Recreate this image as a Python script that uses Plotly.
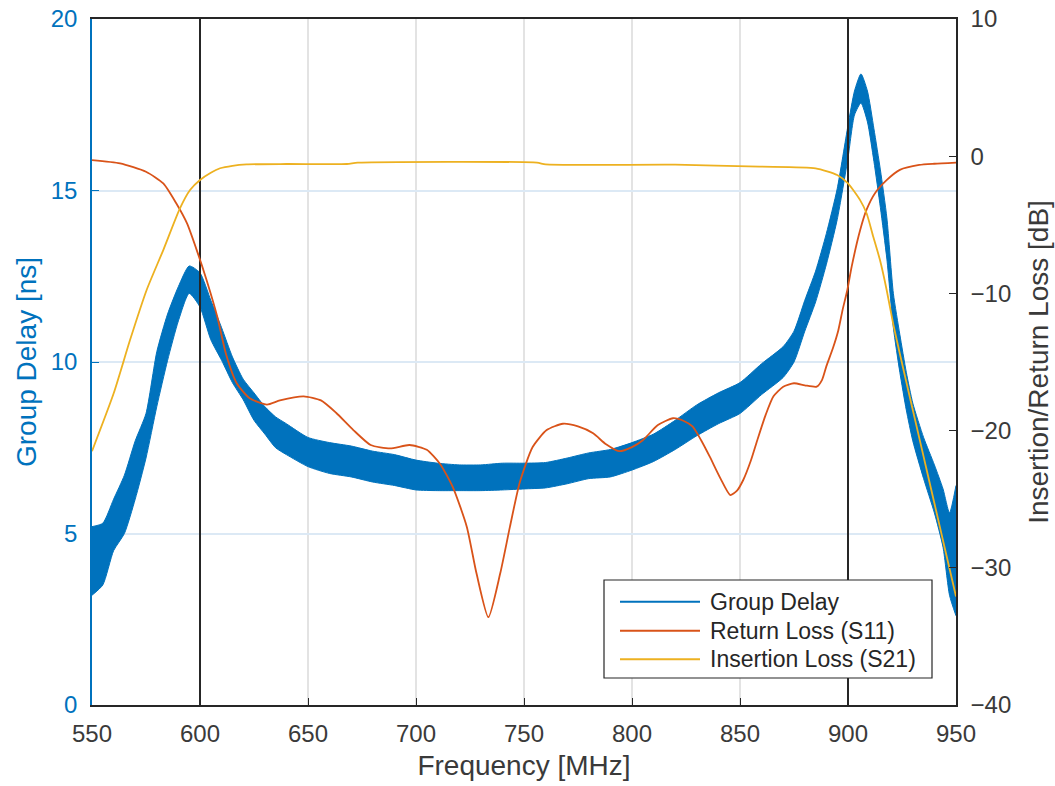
import plotly.graph_objects as go

# ---------------- data ----------------
# Group delay: noisy trace, represented by the lower / upper edge of its band (ns)
gd_freq = [550, 555, 560, 565, 570, 575, 580, 585, 590, 595, 600, 605, 610, 615, 620,
           625, 630, 635, 640, 650, 660, 670, 680, 690, 700, 710, 720, 730, 740, 750,
           760, 770, 780, 790, 800, 810, 820, 830, 840, 850, 860, 870, 875, 880, 885,
           890, 895, 900, 903, 906, 909, 912, 915, 918, 921, 924, 927, 930, 935, 940,
           944, 947, 950]
gd_low = [3.2, 3.5, 4.5, 5.0, 6.0, 7.2, 8.7, 10.05, 11.2, 12.0, 11.6, 10.65, 10.05, 9.4, 8.9,
          8.3, 7.9, 7.5, 7.3, 6.95, 6.75, 6.65, 6.5, 6.4, 6.27, 6.25, 6.25, 6.25, 6.27, 6.3,
          6.33, 6.45, 6.6, 6.65, 6.85, 7.1, 7.45, 7.85, 8.2, 8.5, 9.05, 9.55, 10.0, 10.9, 11.75,
          12.85, 14.15, 15.95, 17.2, 17.55, 17.0, 15.85, 14.5, 13.0, 11.0, 9.7, 8.6, 7.7, 6.6, 5.6,
          4.6, 3.2, 2.6]
gd_high = [5.2, 5.3, 6.0, 6.7, 7.7, 8.5, 10.3, 11.4, 12.2, 12.8, 12.6, 11.8, 11.0, 10.15, 9.5,
           9.1, 8.7, 8.4, 8.2, 7.8, 7.65, 7.55, 7.4, 7.3, 7.14, 7.05, 7.0, 7.0, 7.05, 7.05,
           7.07, 7.2, 7.35, 7.45, 7.65, 7.9, 8.3, 8.75, 9.1, 9.4, 9.95, 10.45, 10.9, 11.8, 12.65,
           13.75, 15.05, 16.9, 17.9, 18.4, 17.9, 16.8, 15.6, 14.2, 12.0, 10.8, 9.7, 8.8, 7.8, 7.0,
           6.3, 5.6, 6.4]

# Return loss S11 (dB)
s11_freq = [550, 563, 575, 583, 589, 594, 599, 603, 608, 612, 617, 623, 631, 637, 648,
            656, 663, 671, 679, 688, 697, 705, 711, 717, 723.5, 728, 733.5, 739, 743.5, 748,
            754, 760.5, 768, 775, 782, 788, 794, 800, 805, 812, 819, 824, 828, 832, 836,
            841, 845.5, 848.5, 851.5, 855, 858, 862, 865.5, 870, 875, 880, 885.5, 888, 890,
            893, 895.5, 897.5, 899.7, 901.7, 905.6, 908.6, 912.5, 918, 924, 933, 940, 950]
s11_db = [-0.28, -0.52, -1.13, -1.98, -3.43, -4.9, -7.08, -9.0, -11.7, -14.4, -16.55, -17.65, -18.1, -17.8, -17.5,
          -17.8, -18.7, -19.96, -21.05, -21.3, -21.05, -21.4, -22.4, -24.1, -27.0, -30.4, -33.6, -30.4, -27.0, -23.8,
          -21.2, -19.96, -19.5, -19.7, -20.2, -21.0, -21.5, -21.2, -20.7, -19.6, -19.1, -19.3, -19.7, -20.7, -21.9,
          -23.5, -24.7, -24.4, -23.6, -22.2, -20.7, -18.8, -17.5, -16.8, -16.55, -16.7, -16.8, -16.3, -15.3,
          -14.0, -12.7, -11.2, -9.75, -8.05, -5.4, -3.9, -2.7, -1.73, -1.0, -0.64, -0.55, -0.47]

# Insertion loss S21 (dB)
s21_freq = [550, 560, 567.6, 575.3, 583, 590.7, 595.4, 600, 605, 609.3, 615, 621.6, 640, 668,
            673, 756, 760, 820, 859, 885, 895, 900, 905.6, 908.6, 911.7, 914.8, 917.9, 920.9,
            924, 930, 935, 940, 945, 950]
s21_db = [-21.5, -17.3, -13.4, -9.75, -6.84, -3.8, -2.46, -1.73, -1.2, -0.88, -0.7, -0.6, -0.57, -0.57,
          -0.47, -0.47, -0.6, -0.62, -0.76, -0.88, -1.37, -1.98, -3.2, -4.16, -5.87, -7.57, -9.75, -12.2,
          -14.4, -18.5, -21.9, -25.3, -28.7, -32.1]

marker_freqs = [600, 900]
x_range = [550, 950]
x_ticks = [550, 600, 650, 700, 750, 800, 850, 900, 950]
y_left_range = [0, 20]
y_left_ticks = [0, 5, 10, 15, 20]
y_right_range = [-40, 10]
y_right_ticks = [-40, -30, -20, -10, 0, 10]
legend_labels = ["Group Delay", "Return Loss (S11)", "Insertion Loss (S21)"]

# ---------------- styling ----------------
BLUE = "#0072BD"
ORANGE = "#D95319"
YELLOW = "#EDB120"
DARK = "#262626"
TXT = "#3a3a3a"
FONT = "Liberation Sans, Arial, sans-serif"
W, H = 1055, 786
ML, MR, MT, MB = 92, 99, 19, 81

fig = go.Figure()

# group delay band
fig.add_trace(go.Scatter(x=gd_freq, y=gd_low, mode="lines",
                         line=dict(color=BLUE, width=1, shape="spline", smoothing=0.6),
                         showlegend=False, hoverinfo="skip"))
fig.add_trace(go.Scatter(x=gd_freq, y=gd_high, mode="lines",
                         line=dict(color=BLUE, width=1, shape="spline", smoothing=0.6),
                         fill="tonexty", fillcolor=BLUE, showlegend=False, hoverinfo="skip"))

# vertical marker lines (left axis, so they sit above the blue band and below the S-params)
for f in marker_freqs:
    fig.add_trace(go.Scatter(x=[f, f], y=y_left_range, mode="lines",
                             line=dict(color=DARK, width=2), showlegend=False, hoverinfo="skip"))

fig.add_trace(go.Scatter(x=s11_freq, y=s11_db, mode="lines", yaxis="y2",
                         line=dict(color=ORANGE, width=1.8, shape="spline", smoothing=0.6),
                         showlegend=False))
fig.add_trace(go.Scatter(x=s21_freq, y=s21_db, mode="lines", yaxis="y2",
                         line=dict(color=YELLOW, width=1.8, shape="spline", smoothing=0.6),
                         showlegend=False))

# ---------------- custom legend (MATLAB style) ----------------
pw, ph = W - ML - MR, H - MT - MB
px = lambda v: (v - ML) / pw
py = lambda v: (H - MB - v) / ph
fig.add_shape(type="rect", xref="paper", yref="paper", x0=px(604), x1=px(932), y0=py(678), y1=py(580),
              line=dict(color=DARK, width=1.2), fillcolor="white", layer="above")
for lab, col, rowy in zip(legend_labels, [BLUE, ORANGE, YELLOW], [601.7, 630.7, 659.3]):
    fig.add_shape(type="line", xref="paper", yref="paper", x0=px(620), x1=px(700), y0=py(rowy), y1=py(rowy),
                  line=dict(color=col, width=2), layer="above")
    fig.add_annotation(xref="paper", yref="paper", x=px(708), y=py(rowy), text=lab, showarrow=False,
                       xanchor="left", yanchor="middle", font=dict(family=FONT, size=23, color=DARK))

fig.update_layout(
    width=W, height=H,
    margin=dict(l=ML, r=MR, t=MT, b=MB, autoexpand=False),
    paper_bgcolor="white", plot_bgcolor="white",
    font=dict(family=FONT, color=DARK),
    showlegend=False,
    xaxis=dict(range=x_range, tickvals=x_ticks, ticks="inside", ticklen=7, tickwidth=1.2, tickcolor=DARK,
               showline=True, linecolor=DARK, linewidth=1.5, mirror=True, automargin=False,
               showgrid=True, gridcolor="#e3e3e3", gridwidth=1.5, zeroline=False,
               tickfont=dict(size=24, color=TXT), ticklabelstandoff=6,
               title=dict(text="Frequency [MHz]", font=dict(size=28, color=TXT), standoff=10)),
    yaxis=dict(range=y_left_range, tickvals=y_left_ticks, ticks="inside", ticklen=7, tickwidth=1.2, tickcolor=BLUE,
               showline=True, linecolor=BLUE, linewidth=1.5, automargin=False,
               showgrid=True, gridcolor="#dce9f5", gridwidth=1.5, zeroline=False,
               tickfont=dict(size=24, color=BLUE), ticklabelstandoff=8,
               title=dict(text="Group Delay [ns]", font=dict(size=28, color=BLUE), standoff=6)),
    yaxis2=dict(range=y_right_range, tickvals=y_right_ticks, overlaying="y", side="right",
                ticks="inside", ticklen=7, tickwidth=1.2, tickcolor=DARK, automargin=False,
                showline=True, linecolor=DARK, linewidth=1.5, showgrid=False, zeroline=False,
                tickfont=dict(size=24, color=TXT), ticklabelstandoff=8,
                title=dict(text="Insertion/Return Loss [dB]", font=dict(size=28, color=TXT), standoff=18)),
)

fig.write_html("out.html")
